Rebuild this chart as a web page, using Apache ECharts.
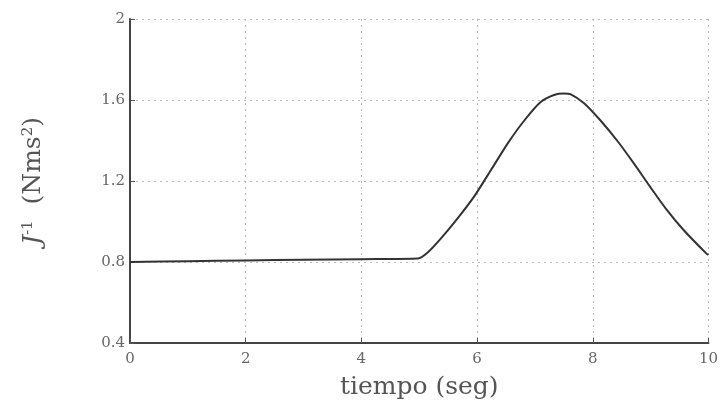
<!DOCTYPE html>
<html>
<head>
<meta charset="utf-8">
<script src="https://cdn.jsdelivr.net/npm/echarts@6/dist/echarts.min.js"></script>
<style>
  html, body { margin: 0; padding: 0; background: #fff; }
  #chart { width: 721px; height: 411px; }
</style>
</head>
<body>
<div id="chart"></div>
<script>
// Time samples (s) and inverse inertia values J^-1 (Nms^2)
const tiempo = [0, 1, 2, 3, 4, 4.98, 5.15, 5.38, 5.67, 5.96, 6.24, 6.53, 6.82, 7.10, 7.33, 7.50, 7.62, 7.85, 8.13, 8.42, 8.71, 8.99, 9.28, 9.57, 9.97, 10];
const jInv   = [0.80, 0.804, 0.808, 0.811, 0.814, 0.817, 0.848, 0.918, 1.018, 1.128, 1.254, 1.386, 1.50, 1.59, 1.625, 1.632, 1.628, 1.584, 1.50, 1.40, 1.287, 1.172, 1.057, 0.958, 0.840, 0.835];

const xTicks = [0, 2, 4, 6, 8, 10];
const yTicks = [0.4, 0.8, 1.2, 1.6, 2];

const chart = echarts.init(document.getElementById('chart'));
const serif = '"DejaVu Serif", "Liberation Serif", serif';

chart.setOption({
  backgroundColor: '#fff',
  animation: false,
  grid: { left: 130, right: 9, top: 19, bottom: 68 },
  xAxis: {
    type: 'value',
    min: xTicks[0],
    max: xTicks[xTicks.length - 1],
    interval: 2,
    name: 'tiempo (seg)',
    nameLocation: 'middle',
    nameGap: 32,
    nameTextStyle: { fontFamily: serif, fontSize: 25, color: '#555' },
    axisLine: { show: true, lineStyle: { color: '#444', width: 2 } },
    axisTick: { show: true, inside: true, length: 5, lineStyle: { color: '#555' } },
    axisLabel: { fontFamily: serif, fontSize: 15, color: '#666', margin: 9,
                 formatter: v => String(v) },
    splitLine: { show: true, lineStyle: { type: [2, 4], color: '#bbb', width: 1 } }
  },
  yAxis: {
    type: 'value',
    min: yTicks[0],
    max: yTicks[yTicks.length - 1],
    interval: 0.4,
    name: '{j|J}{sup|-1}  (Nms{sup|2})',
    nameLocation: 'middle',
    nameRotate: 90,
    nameGap: 84,
    nameTextStyle: {
      fontFamily: serif, fontSize: 25, color: '#555',
      rich: {
        j: { fontFamily: serif, fontStyle: 'italic', fontSize: 25, color: '#555' },
        sup: { fontFamily: serif, fontSize: 15, color: '#555', verticalAlign: 'top', padding: [0, 0, 10, 0] }
      }
    },
    axisLine: { show: true, lineStyle: { color: '#444', width: 2 } },
    axisTick: { show: true, inside: true, length: 5, lineStyle: { color: '#555' } },
    axisLabel: { fontFamily: serif, fontSize: 15, color: '#666', margin: 5,
                 formatter: v => String(Math.round(v * 10) / 10) },
    splitLine: { show: true, lineStyle: { type: [2, 4], color: '#bbb', width: 1 } }
  },
  series: [{
    type: 'line',
    data: tiempo.map((t, i) => [t, jInv[i]]),
    smooth: 0.25,
    showSymbol: false,
    lineStyle: { color: '#333', width: 2 }
  }]
});
</script>
</body>
</html>
